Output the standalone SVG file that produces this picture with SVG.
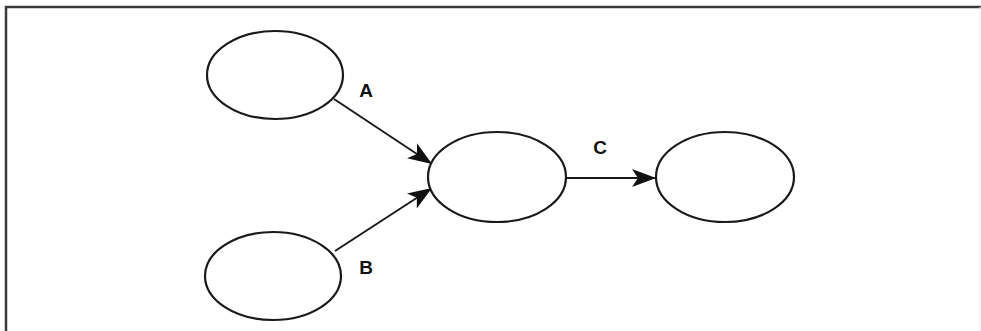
<svg xmlns="http://www.w3.org/2000/svg" width="981" height="331" viewBox="0 0 981 331">
<style>
.node{fill:#fff;stroke:#1a1a1a;stroke-width:2.2}
.edge{stroke:#1a1a1a;stroke-width:2;fill:none;marker-end:url(#arr)}
.lbl{font-family:"Liberation Sans",Arial,sans-serif;font-weight:bold;font-size:19px;fill:#111;text-anchor:middle}
</style>
<defs>
<marker id="arr" markerUnits="userSpaceOnUse" markerWidth="26" markerHeight="22" viewBox="0 0 26 22" refX="24" refY="11" orient="auto">
<path d="M0,2 L24,11 L0,20 L6,11 Z" fill="#111"/>
</marker>
</defs>
<rect width="981" height="331" fill="#fff"/>
<path d="M6,331 L6,7 L981,7" fill="none" stroke="#3a3a3a" stroke-width="2.5"/>
<line x1="980" y1="7" x2="980" y2="331" stroke="#ececec" stroke-width="1"/>
<g id="connectors">
<line class="edge" x1="334" y1="99" x2="432" y2="164"/>
<line class="edge" x1="335" y1="251" x2="432" y2="188"/>
<line class="edge" x1="566" y1="178" x2="656" y2="178"/>
</g>
<g id="n1"><ellipse class="node" cx="275" cy="75" rx="68" ry="44"/></g>
<g id="n2"><ellipse class="node" cx="273" cy="276" rx="68" ry="44"/></g>
<g id="n3"><ellipse class="node" cx="497" cy="177" rx="69" ry="45"/></g>
<g id="n4"><ellipse class="node" cx="725" cy="177" rx="69" ry="45"/></g>
<g id="labels">
<text class="lbl" x="366" y="97">A</text>
<text class="lbl" x="366" y="274">B</text>
<text class="lbl" x="600" y="154">C</text>
</g>
</svg>
